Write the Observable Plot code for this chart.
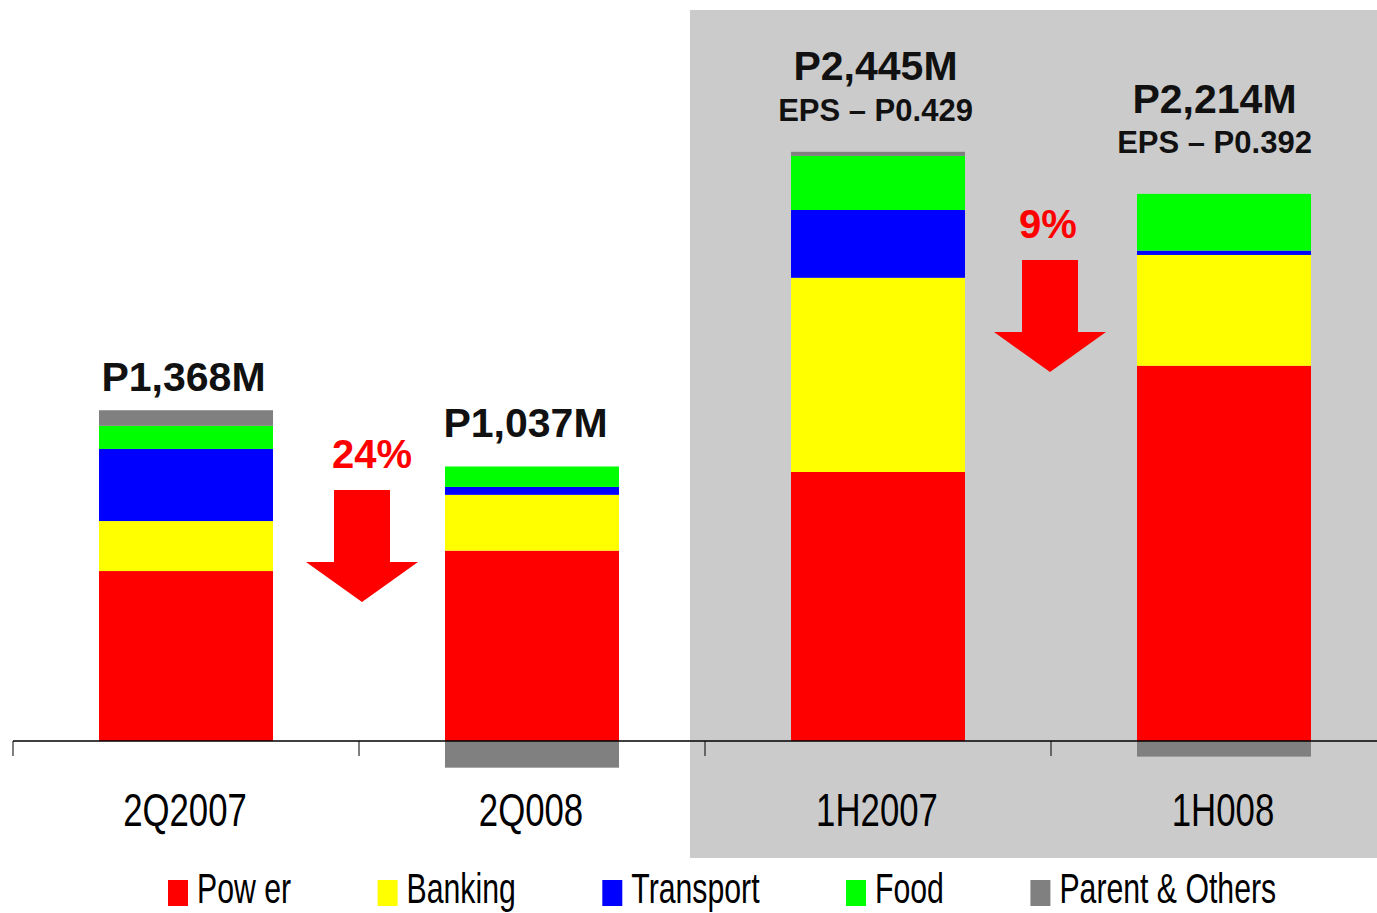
<!DOCTYPE html>
<html><head><meta charset="utf-8">
<script src="https://cdn.jsdelivr.net/npm/d3@7"></script>
<script src="https://cdn.jsdelivr.net/npm/@observablehq/plot@0.6"></script>
<style>
html,body{margin:0;padding:0;background:#fff;overflow:hidden;}
#chart svg,#legend svg{display:block;}
</style></head><body><div id="chart"></div><div id="legend"></div>
<script>
// ---- data (millions of pesos) ----
const periods = ["2Q2007", "2Q008", "1H2007", "1H008"];
const segments = ["Pow er", "Banking", "Transport", "Food", "Parent & Others"];
const power = [707, 792, 1119, 1561];
const banking = [208, 232, 808, 461];
const transport = [300, 33, 282, 18];
const food = [96, 85, 225, 236];
const parentOthers = [65, -111, 17, -65];
const colors = ["#ff0000", "#ffff00", "#0000ff", "#00ff00", "#808080"];
const totalLabels = ["P1,368M", "P1,037M", "P2,445M", "P2,214M"];
const epsLabels = ["", "", "EPS \u2013 P0.429", "EPS \u2013 P0.392"];
const changeLabels = ["24%", "9%"];

// ---- layout constants ----
const FONT = "'Liberation Sans', Arial, Helvetica, sans-serif";
const totalDy = [-20, -30, -72, -81];
const totalDx = [-3, -7, -3, -10];
const epsDy = [0, 0, -31, -41];
const arrowTop = [1044, 2001];   // y (in M) of the arrow tops
const arrowDx = [3, -1];
const pctDx = [13, -3];

const rows = [];
periods.forEach((p, i) => {
  const vals = [power[i], banking[i], transport[i], food[i], parentOthers[i]];
  segments.forEach((s, j) => rows.push({period: p, segment: s, value: vals[j]}));
});
const posTop = periods.map(p => d3.sum(rows.filter(r => r.period === p && r.value > 0), r => r.value));

const labelMarks = periods.flatMap((p, i) => {
  const m = [Plot.text([{p, y: posTop[i], t: totalLabels[i]}], {
    x: "p", y: "y", text: "t", dx: totalDx[i], dy: totalDy[i], lineAnchor: "bottom",
    fontSize: 41, fontWeight: "bold", fill: "#111"})];
  if (epsLabels[i]) m.push(Plot.text([{p, y: posTop[i], t: epsLabels[i]}], {
    x: "p", y: "y", text: "t", dx: totalDx[i], dy: epsDy[i], lineAnchor: "bottom",
    fontSize: 31, fontWeight: "bold", fill: "#111"}));
  return m;
});

const W = 1377, H = 860;
const chart = Plot.plot({
  width: W, height: H,
  marginTop: 0, marginBottom: 0, marginLeft: 0, marginRight: 0,
  style: {fontFamily: FONT, background: "transparent", overflow: "visible"},
  x: {domain: periods, range: [13, 1397], padding: 0, axis: null},
  y: {domain: [0, 2500], range: [741, 741 - 2500 / 4.16], axis: null},
  color: {domain: segments, range: colors},
  marks: [
    Plot.barY(rows, {x: "period", y: "value", fill: "segment", insetLeft: 86, insetRight: 86}),
    ...labelMarks
  ]
});
document.getElementById("chart").appendChild(chart);

const xs = chart.scale("x"), ys = chart.scale("y"), cs = chart.scale("color");
const svg = d3.select(chart);

// shaded background behind the half-year comparison
svg.insert("rect", ":first-child")
  .attr("x", xs.apply(periods[2]) - 15).attr("y", 10)
  .attr("width", W - (xs.apply(periods[2]) - 15)).attr("height", 848)
  .attr("fill", "#cbcbcb");

// axis line and tick marks at band boundaries
const y0 = ys.apply(0);
svg.append("line").attr("x1", xs.apply(periods[0])).attr("x2", W).attr("y1", y0).attr("y2", y0)
  .attr("stroke", "#000").attr("stroke-width", 1.5);
periods.forEach(p => {
  const x = xs.apply(p);
  svg.append("line").attr("x1", x).attr("x2", x).attr("y1", y0).attr("y2", y0 + 15)
    .attr("stroke", "#000").attr("stroke-width", 1);
  // condensed category label
  svg.append("text")
    .attr("transform", `translate(${x + xs.bandwidth / 2 - 1},826) scale(0.74,1)`)
    .attr("text-anchor", "middle").attr("font-family", FONT).attr("font-size", 47)
    .attr("fill", "#000").text(p);
});

// decline arrows with percentage
changeLabels.forEach((lab, k) => {
  const bx = xs.apply(periods[2 * k + 1]);
  const c = bx + arrowDx[k];
  const t = ys.apply(arrowTop[k]);
  const d = `M${c-28},${t}L${c+28},${t}L${c+28},${t+72}L${c+56},${t+72}L${c},${t+112}L${c-56},${t+72}L${c-28},${t+72}Z`;
  svg.append("path").attr("d", d).attr("fill", "#ff0000");
  svg.append("text").attr("x", bx + pctDx[k]).attr("y", t - 22).attr("text-anchor", "middle")
    .attr("font-family", FONT).attr("font-weight", "bold").attr("font-size", 40)
    .attr("fill", "#ff0000").text(lab);
});

// legend
const leg = d3.select("#legend").append("svg").attr("width", W).attr("height", 53);
let lx = 168;
segments.forEach(s => {
  leg.append("rect").attr("x", lx).attr("y", 20).attr("width", 20).attr("height", 26).attr("fill", cs.apply(s));
  const t = leg.append("text").attr("transform", `translate(${lx + 29},43) scale(0.72,1)`)
    .attr("font-size", 42).attr("font-family", FONT).attr("fill", "#000").text(s);
  const w = t.node().getComputedTextLength() * 0.72;
  lx += 29 + w + 86.5;
});
</script>
</body></html>
